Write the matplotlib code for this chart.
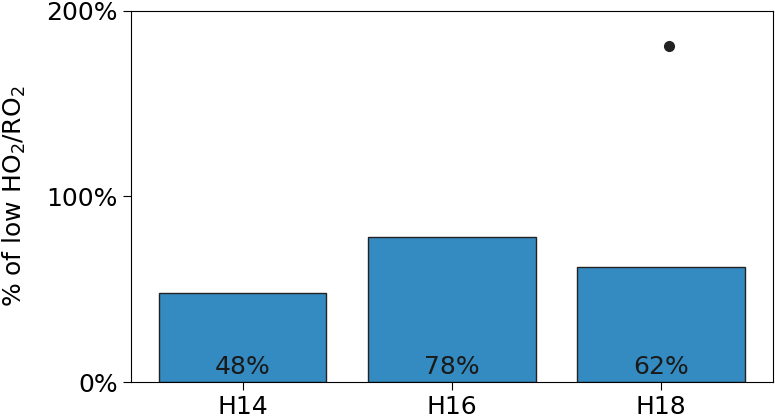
import matplotlib.pyplot as plt
from matplotlib.ticker import PercentFormatter

# values
cases = ['H14', 'H16', 'H18']
pct_low = [48, 78, 62]
# single outlier point drawn on top of H18
dot_case = 2
dot_value = 181

fig = plt.figure(figsize=(7.75, 4.18), dpi=100)
ax = fig.add_axes([0.169, 0.086, 0.828, 0.888])

x = list(range(len(cases)))
bars = ax.bar(x, pct_low, width=0.8, color='#348bc1', edgecolor='#222222', linewidth=1.0)

for xi, v in zip(x, pct_low):
    ax.text(xi, 1.5, f'{v}%', ha='center', va='bottom', fontsize=18, color='#1a1a1a')

ax.plot([dot_case + 0.036], [dot_value], 'o', color='#222222', markersize=7)

ax.set_xticks(x)
ax.set_xticklabels(cases, fontsize=18)
ax.set_ylim(0, 200)
ax.set_xlim(-0.533, 2.533)
ax.set_yticks([0, 100, 200])
ax.yaxis.set_major_formatter(PercentFormatter(decimals=0))
ax.tick_params(axis='y', labelsize=18, length=6)
ax.tick_params(axis='x', length=6)
ax.set_ylabel('% of low HO$_2$/RO$_2$', fontsize=18, labelpad=13)

fig.savefig('out.png', dpi=100)
